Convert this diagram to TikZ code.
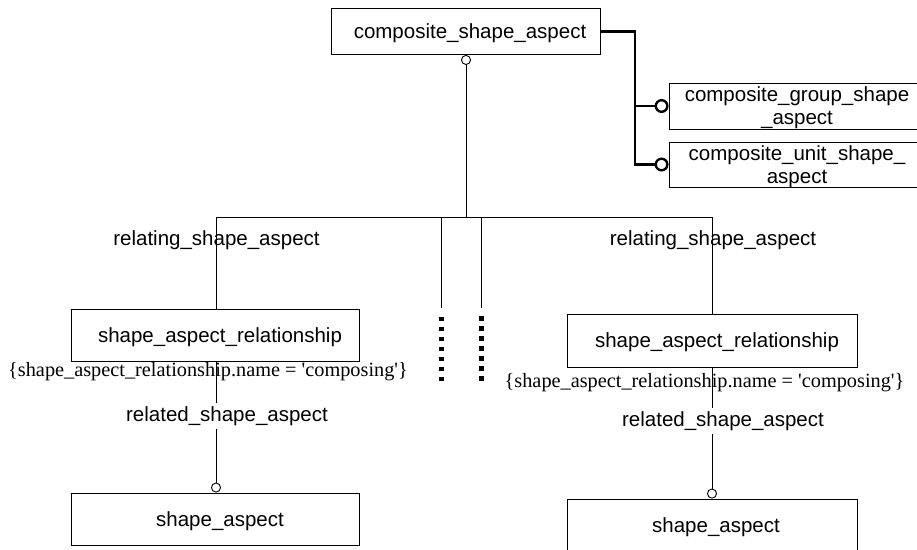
\documentclass[tikz,border=0pt]{standalone}
\usepackage{fontspec}
\setmainfont{Liberation Sans}
\newfontfamily\serifont{Liberation Serif}
\usetikzlibrary{arrows.meta}
\begin{document}
\begin{tikzpicture}[x=1pt,y=-1pt,
  every node/.style={font=\fontsize{20.5}{23}\selectfont, inner sep=0pt},
  entbox/.style={draw, line width=0.9pt, minimum width=#1, text depth=0pt},
  thin/.style={line width=0.9pt},
  thickln/.style={line width=2.6pt},
  smallo/.style={{Circle[open,length=10pt,width=10pt,line width=0.9pt]}-},
  bigo/.style={-{Circle[open,length=14pt,width=14pt,line width=2.4pt]}},
  lbl/.style={fill=white, inner ysep=3pt, inner xsep=1pt},
  cons/.style={font=\serifont\fontsize{20.3}{23}\selectfont},
  dotsq/.style={fill=black, minimum size=4.5pt, inner sep=0pt}
]
\clip (0,0) rectangle (917,549);
\fill[white] (0,0) rectangle (917,549);

% boxes
\node[entbox=269pt, minimum height=46pt] (top) at (465.5,31.5) {\hspace{9pt}composite\_shape\_aspect};
\node[entbox=256pt, minimum height=46pt, align=center] (CG) at (797,106) {composite\_group\_shape\\\_aspect};
\node[entbox=256pt, minimum height=45pt, align=center] (CU) at (797,164.5) {composite\_unit\_shape\_\\aspect};
\node[entbox=288pt, minimum height=52pt] (SARL) at (215,335) {\hspace{10pt}shape\_aspect\_relationship};
\node[entbox=288pt, minimum height=52pt] (SAL) at (215,519) {\hspace{10pt}shape\_aspect};
\node[entbox=290pt, minimum height=53pt] (SARR) at (712,340.5) {\hspace{10pt}shape\_aspect\_relationship};
\node[entbox=290pt, minimum height=52pt] (SAR) at (712,525) {\hspace{8pt}shape\_aspect};

% junction coordinates
\coordinate (J) at (466,217);
\coordinate (HL) at (216,217);
\coordinate (HR) at (712,217);
\coordinate (M1) at (441,217);
\coordinate (M2) at (481,217);
\coordinate (M1e) at (441,308);
\coordinate (M2e) at (481,308);
\coordinate (bus) at (635,31.5);

% subtype tree
\draw[thin,smallo] (top.south -| J) -- (J);
\draw[thin] (HL) -- (HR);
\draw[thin] (HL) -- (SARL.north -| HL);
\draw[thin] (HR) -- (SARR.north -| HR);
\draw[thin] (M1) -- (M1e);
\draw[thin] (M2) -- (M2e);
\foreach \k in {0,...,6}{
  \node[dotsq] (da\k) at (441.5,{319+10*\k}) {};
  \node[dotsq] (db\k) at (481.5,{318.5+10*\k}) {};
}

% thick connectors
\draw[thickln,bigo] (top.east) -- (bus) |- (CU.west);
\draw[thickln,bigo] (bus |- CG.west) -- (CG.west);

% left relationship
\draw[thin,smallo] (SAL.north -| HL) -- (SARL.south -| HL);
\node[lbl] (rsaL) at (227,416) {related\_shape\_aspect};
\node[cons] (cL) at (208,372) {\{shape\_aspect\_relationship.name = \textquotesingle composing\textquotesingle\}};
\node (rlL) at (216.5,240) {relating\_shape\_aspect};

% right relationship
\draw[thin,smallo] (SAR.north -| HR) -- (SARR.south -| HR);
\node[lbl] (rsaR) at (723,421) {related\_shape\_aspect};
\node[cons] (cR) at (704.5,383) {\{shape\_aspect\_relationship.name = \textquotesingle composing\textquotesingle\}};
\node (rlR) at (713,240) {relating\_shape\_aspect};
\end{tikzpicture}
\end{document}
